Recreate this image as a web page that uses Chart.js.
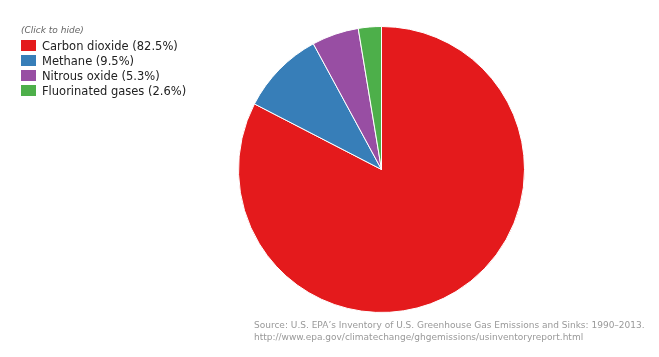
<!DOCTYPE html>
<html>
<head>
<meta charset="utf-8">
<script src="https://cdn.jsdelivr.net/npm/chart.js@4/dist/chart.umd.min.js"></script>
<style>
  html, body { margin: 0; padding: 0; background: #fff; }
  #wrap { position: relative; width: 659px; height: 357px; overflow: hidden; }
  #c { position: absolute; left: 0; top: 0; }
  #legend { position: absolute; left: 21px; top: 24px; font-family: "DejaVu Sans", Verdana, sans-serif; }
  #legend .hint { font-size: 9px; font-style: italic; color: #666; height: 14px; line-height: 12px; }
  #legend .row { height: 15px; display: flex; align-items: center; font-size: 11.5px; color: #222; }
  #legend .box { width: 15px; height: 11px; margin-right: 6px; flex: none; }
  #source { position: absolute; left: 254px; top: 319px; font-family: "DejaVu Sans", Verdana, sans-serif; font-size: 9px; line-height: 12px; color: #999; white-space: nowrap; }
</style>
</head>
<body>
<div id="wrap">
  <canvas id="c" width="659" height="357"></canvas>
  <div id="legend"></div>
  <div id="source"></div>
</div>
<script>
const categories = ["Carbon dioxide", "Methane", "Nitrous oxide", "Fluorinated gases"];
const shares = [82.5, 9.5, 5.3, 2.6];
const colors = ["#e41a1c", "#377eb8", "#984ea3", "#4daf4a"];
const legendHint = "(Click to hide)";
const sourceLines = [
  "Source: U.S. EPA\u2019s Inventory of U.S. Greenhouse Gas Emissions and Sinks: 1990\u20132013.",
  "http://www.epa.gov/climatechange/ghgemissions/usinventoryreport.html"
];

const legend = document.getElementById('legend');
const hint = document.createElement('div');
hint.className = 'hint';
hint.textContent = legendHint;
legend.appendChild(hint);
categories.forEach((name, i) => {
  const row = document.createElement('div');
  row.className = 'row';
  const box = document.createElement('span');
  box.className = 'box';
  box.style.background = colors[i];
  const label = document.createElement('span');
  label.textContent = name + ' (' + shares[i] + '%)';
  row.appendChild(box);
  row.appendChild(label);
  legend.appendChild(row);
});
const src = document.getElementById('source');
sourceLines.forEach(t => { const d = document.createElement('div'); d.textContent = t; src.appendChild(d); });

new Chart(document.getElementById('c'), {
  type: 'pie',
  data: {
    labels: categories,
    datasets: [{
      data: shares,
      backgroundColor: colors,
      borderColor: '#ffffff',
      borderWidth: 1,
      hoverOffset: 0
    }]
  },
  options: {
    responsive: false,
    animation: false,
    layout: { padding: { left: 238, right: 134, top: 26, bottom: 44 } },
    plugins: { legend: { display: false }, tooltip: { enabled: false } }
  }
});
</script>
</body>
</html>
